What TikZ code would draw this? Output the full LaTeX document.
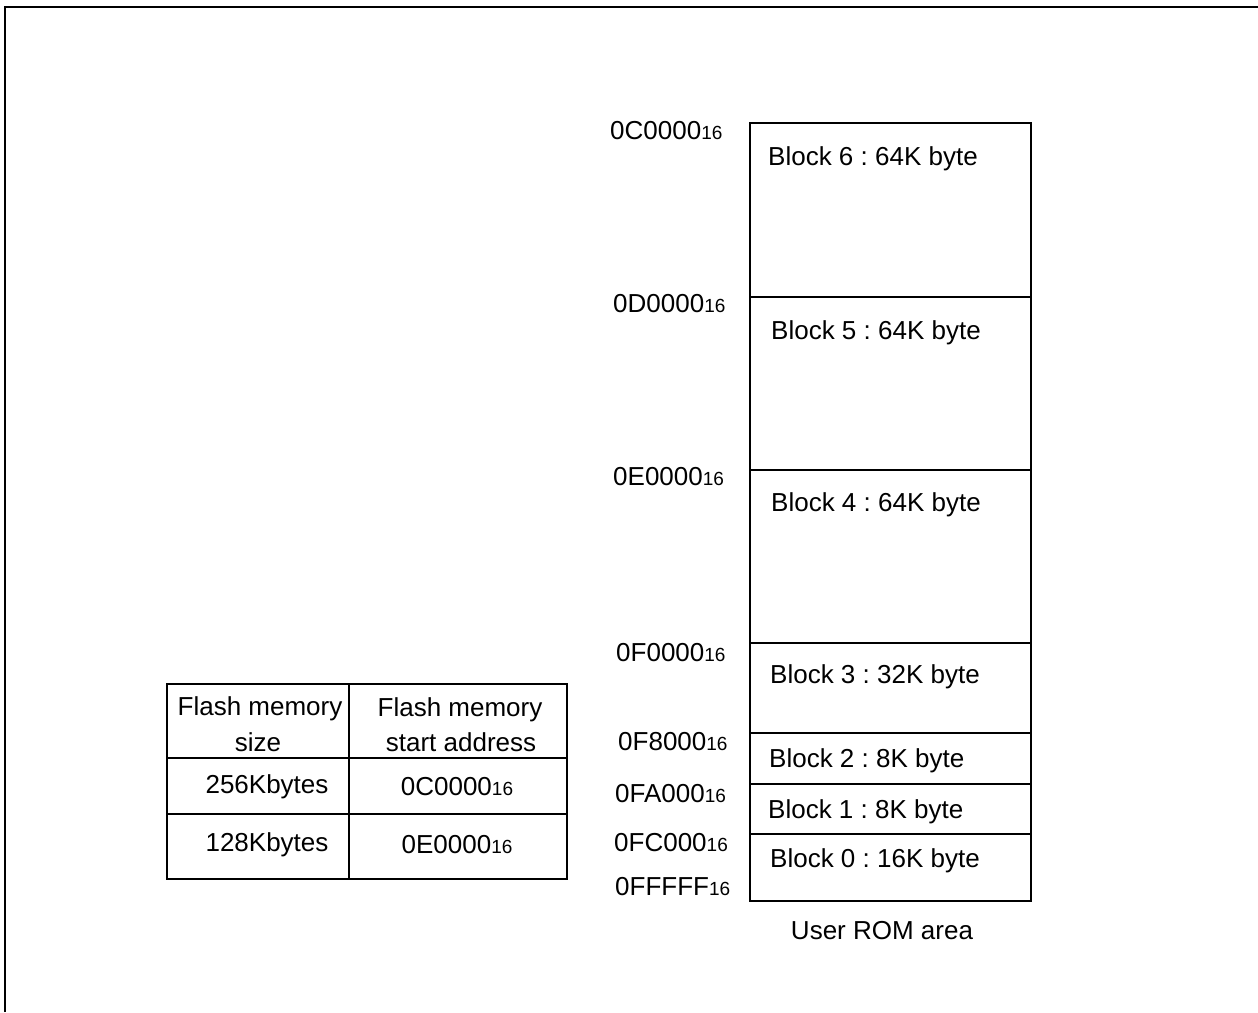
\documentclass[tikz,border=0pt]{standalone}
\usepackage{fontspec}
\setmainfont{Liberation Sans}
\newcommand\mainsz{\fontsize{26}{35}\selectfont\frenchspacing}
\newcommand\subsz{\fontsize{19}{20}\selectfont}
\newcommand\hexnum[1]{#1{\subsz 16}}
\begin{document}
\begin{tikzpicture}[x=1pt,y=-1pt,
  cell/.style={draw, line width=1.8pt, inner sep=0pt, outer sep=0pt},
  blk/.style={draw, line width=1.8pt, inner sep=0pt, outer sep=0pt, minimum width=281pt},
  txt/.style={inner sep=0pt, anchor=base west, font=\mainsz},
  ctxt/.style={inner sep=0pt, anchor=base, font=\mainsz},
]
\useasboundingbox (0,0) rectangle (1258,1012);
% frame
\coordinate (fbl) at (5,1012);
\coordinate (ftl) at (5,7);
\coordinate (ftr) at (1258,7);
\draw[line width=2pt] (fbl) -- (ftl) -- (ftr);
% table
\node[cell, minimum width=182pt, minimum height=74pt] (c11) at (258,721) {};
\node[cell, minimum width=218pt, minimum height=74pt] (c12) at (458,721) {};
\node[cell, minimum width=182pt, minimum height=56pt] (c21) at (258,786) {};
\node[cell, minimum width=218pt, minimum height=56pt] (c22) at (458,786) {};
\node[cell, minimum width=182pt, minimum height=65pt] (c31) at (258,846.5) {};
\node[cell, minimum width=218pt, minimum height=65pt] (c32) at (458,846.5) {};
\node[ctxt] (h1a) at (260,715) {Flash memory};
\node[ctxt] (h1b) at (258,751) {size};
\node[ctxt] (h2a) at (460,716) {Flash memory};
\node[ctxt] (h2b) at (461,751) {start address};
\node[ctxt] (s1) at (267,793) {256Kbytes};
\node[ctxt] (a1) at (457,795) {\hexnum{0C0000}};
\node[ctxt] (s2) at (267,851) {128Kbytes};
\node[ctxt] (a2) at (457,853) {\hexnum{0E0000}};
% memory map
\node[blk, minimum height=174pt] (b6) at (890.5,210) {};
\node[blk, minimum height=173pt] (b5) at (890.5,383.5) {};
\node[blk, minimum height=173pt] (b4) at (890.5,556.5) {};
\node[blk, minimum height=90pt] (b3) at (890.5,688) {};
\node[blk, minimum height=51pt] (b2) at (890.5,758.5) {};
\node[blk, minimum height=50pt] (b1) at (890.5,809) {};
\node[blk, minimum height=67pt] (b0) at (890.5,867.5) {};
\node[txt] (t6) at (768,165) {Block 6 : 64K byte};
\node[txt] (t5) at (771,339) {Block 5 : 64K byte};
\node[txt] (t4) at (771,511) {Block 4 : 64K byte};
\node[txt] (t3) at (770,683) {Block 3 : 32K byte};
\node[txt] (t2) at (769,767) {Block 2 : 8K byte};
\node[txt] (t1) at (768,818) {Block 1 : 8K byte};
\node[txt] (t0) at (770,867) {Block 0 : 16K byte};
\node[ctxt] (rom) at (882,939) {User ROM area};
% addresses
\node[txt] (adC) at (610,139) {\hexnum{0C0000}};
\node[txt] (adD) at (613,312) {\hexnum{0D0000}};
\node[txt] (adE) at (613,485) {\hexnum{0E0000}};
\node[txt] (adF) at (616,661) {\hexnum{0F0000}};
\node[txt] (adF8) at (618,750) {\hexnum{0F8000}};
\node[txt] (adFA) at (615,802) {\hexnum{0FA000}};
\node[txt] (adFC) at (614,851) {\hexnum{0FC000}};
\node[txt] (adFF) at (615,895) {\hexnum{0FFFFF}};
\end{tikzpicture}
\end{document}
